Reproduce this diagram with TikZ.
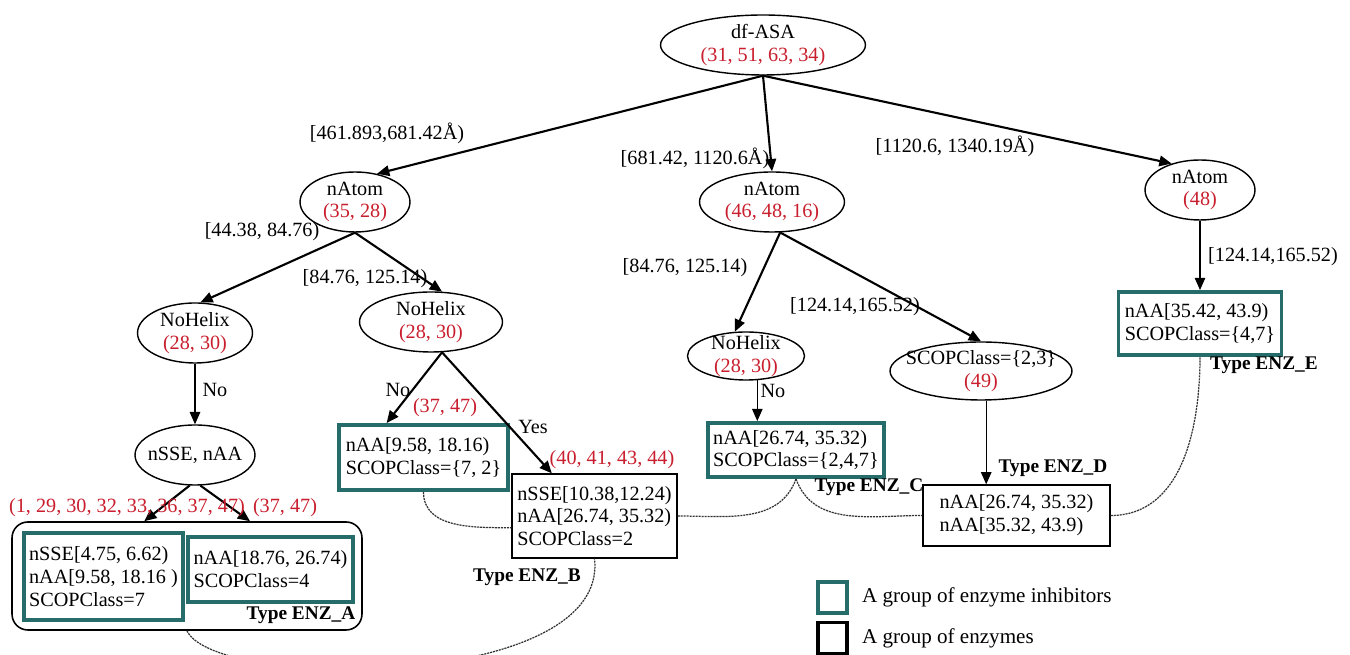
\documentclass[tikz,border=0pt]{standalone}
\usepackage{fontspec}
\setmainfont{Liberation Serif}
\usepackage{xcolor}
\usepackage{tikz}
\usetikzlibrary{shapes.geometric, arrows.meta, positioning}

\definecolor{inhibteal}{RGB}{38,108,106}
\definecolor{countred}{RGB}{200,30,45}

\begin{document}
\begin{tikzpicture}[
    x=0.02cm, y=0.02cm,
    font=\fontsize{11.5}{13}\selectfont,
    decision/.style={ellipse, draw=black, line width=0.8pt, inner xsep=-8pt, inner ysep=-10pt, align=center},
    inhibitor/.style={rectangle, draw=inhibteal, line width=2.2pt, inner xsep=3pt, align=left},
    enzyme/.style={rectangle, draw=black, line width=0.75pt, inner xsep=3pt, align=left},
    arrow/.style={line width=1.2pt, -{Triangle[length=7pt, width=6pt]}},
    thinarrow/.style={line width=0.7pt, -{Triangle[length=7pt, width=6pt]}},
    cut/.style={inner sep=1pt},
    counts/.style={text=countred, inner sep=1pt},
    typelabel/.style={font=\fontsize{11}{13}\selectfont\bfseries, inner sep=1pt},
    link/.style={dash pattern=on 1.2pt off 0.5pt, line width=0.7pt, black!80}
]
\useasboundingbox (0,0) rectangle (1350,655);

% decision nodes
\node[decision, minimum width=4.1cm, minimum height=1.2cm] (root) at (763,610) {df-ASA\\\textcolor{countred}{(31, 51, 63, 34)}};
\node[decision, minimum width=2.2cm, minimum height=1.2cm] (atomA) at (355,453) {nAtom\\\textcolor{countred}{(35, 28)}};
\node[decision, minimum width=2.9cm, minimum height=1.2cm] (atomB) at (772,453) {nAtom\\\textcolor{countred}{(46, 48, 16)}};
\node[decision, minimum width=2.2cm, minimum height=1.2cm] (atomC) at (1200,465) {nAtom\\\textcolor{countred}{(48)}};
\node[decision, minimum width=2.3cm, minimum height=1.2cm] (helixA) at (195,322) {NoHelix\\\textcolor{countred}{(28, 30)}};
\node[decision, minimum width=2.86cm, minimum height=1.2cm] (helixB) at (431,333) {NoHelix\\\textcolor{countred}{(28, 30)}};
\node[decision, minimum width=2.34cm, minimum height=0.96cm] (helixC) at (746,299) {NoHelix\\\textcolor{countred}{(28, 30)}};
\node[decision, minimum width=2.4cm, minimum height=1.2cm] (sseAA) at (195,200) {nSSE, nAA};
\node[decision, minimum width=3.64cm, minimum height=1.16cm] (scop) at (981,284) {SCOPClass=\{2,3\}\\\textcolor{countred}{(49)}};

% leaf groups
\node[enzyme, rounded corners=9pt, line width=0.9pt, minimum width=7cm, minimum height=2.16cm] (groupA) at (187,79) {};
\node[inhibitor, minimum width=3.18cm, minimum height=1.74cm] (leafA1) at (103.5,78.5) {nSSE[4.75, 6.62)\\nAA[9.58, 18.16 )\\SCOPClass=7};
\node[inhibitor, minimum width=3.3cm, minimum height=1.3cm] (leafA2) at (270.5,85.5) {nAA[18.76, 26.74)\\SCOPClass=4};
\node[inhibitor, minimum width=3.38cm, minimum height=1.3cm] (leafB1) at (423.5,197.5) {nAA[9.58, 18.16)\\SCOPClass=\{7, 2\}};
\node[enzyme, minimum width=3.3cm, minimum height=1.68cm] (leafB2) at (594.5,139) {nSSE[10.38,12.24)\\nAA[26.74, 35.32)\\SCOPClass=2};
\node[inhibitor, minimum width=3.44cm, minimum height=1.08cm] (leafC) at (796,205) {nAA[26.74, 35.32)\\SCOPClass=\{2,4,7\}};
\node[enzyme, minimum width=3.74cm, minimum height=1.22cm] (leafD) at (1016.5,139.5) {nAA[26.74, 35.32)\\nAA[35.32, 43.9)};
\node[inhibitor, minimum width=3.26cm, minimum height=1.26cm] (leafE) at (1200,331.5) {nAA[35.42, 43.9)\\SCOPClass=\{4,7\}};

% branches
\draw[arrow] (root.south) -- (atomA.52);
\draw[arrow] (root.south) -- (atomB.north);
\draw[arrow] (root.south) -- (atomC.137);
\draw[arrow] (atomA.south) -- (helixA.80);
\draw[arrow] (atomA.south) -- (helixB.70);
\draw[arrow] (atomB.-75) -- (helixC.115);
\draw[arrow] (atomB.-75) -- (scop.north);
\draw[thinarrow] (atomC.south) -- (leafE.north);
\draw[thinarrow] (helixA.south) -- (sseAA.north);
\draw[arrow] (helixB.-70) -- (leafB1.137);
\draw[arrow] (helixB.-70) -- (leafB2.135);
\draw[thinarrow] (helixC.-65) -- (helixC.-65 |- leafC.north);
\draw[thinarrow] (scop.-80) -- (scop.-80 |- leafD.north);
\draw[arrow] (sseAA.-100) -- (groupA.128);
\draw[arrow] (sseAA.-80) -- (groupA.41);

% branch conditions
\node[cut] (cutRootA) at (387,522) {[461.893,681.42Å)};
\node[cut] (cutRootB) at (695,497) {[681.42, 1120.6Å)};
\node[cut] (cutRootC) at (955,509) {[1120.6, 1340.19Å)};
\node[cut] (cutAtomA1) at (262,423) {[44.38, 84.76)};
\node[cut] (cutAtomA2) at (365,376) {[84.76, 125.14)};
\node[cut] (cutAtomB1) at (685,387) {[84.76, 125.14)};
\node[cut] (cutAtomB2) at (855,348) {[124.14,165.52)};
\node[cut] (cutAtomC) at (1273,398) {[124.14,165.52)};
\node[cut] (noA) at (215,265) {No};
\node[cut] (noB) at (398,265) {No};
\node[cut] (yesB) at (533,228) {Yes};
\node[cut] (noC) at (773,264) {No};
\node[counts] (setB1) at (445,247) {(37, 47)};
\node[counts] (setB2) at (612,195) {(40, 41, 43, 44)};
\node[counts] (setA1) at (127,147) {(1, 29, 30, 32, 33, 36, 37, 47)};
\node[counts] (setA2) at (285,147) {(37, 47)};

% enzyme types
\node[typelabel] (typeA) at (301,40) {Type ENZ\_A};
\node[typelabel] (typeB) at (527,78) {Type ENZ\_B};
\node[typelabel] (typeC) at (869,168) {Type ENZ\_C};
\node[typelabel] (typeD) at (1053,187) {Type ENZ\_D};
\node[typelabel] (typeE) at (1264,290) {Type ENZ\_E};

% links between groups
\draw[link] (leafB1.south) to[out=-90, in=180] (leafB2.188);
\draw[link] (leafB2.east) to[out=0, in=-110] (leafC.south);
\draw[link] (leafC.south) to[out=-70, in=180] (leafD.west);
\draw[link] (leafD.east) to[out=0, in=-90] (leafE.south);
\draw[link] (groupA.south) .. controls +(28,-60) and +(15,-132) .. (leafB2.south);

% legend
\node[inhibitor, minimum width=0.58cm, minimum height=0.62cm] (keyInhib) at (832.5,57.5) {};
\node[enzyme, line width=2.2pt, minimum width=0.58cm, minimum height=0.62cm] (keyEnz) at (832.5,17) {};
\node[right=4pt of keyInhib, font=\fontsize{12}{14}\selectfont] (keyInhibText) {A group of enzyme inhibitors};
\node[right=4pt of keyEnz, font=\fontsize{12}{14}\selectfont] (keyEnzText) {A group of enzymes};

\end{tikzpicture}
\end{document}
